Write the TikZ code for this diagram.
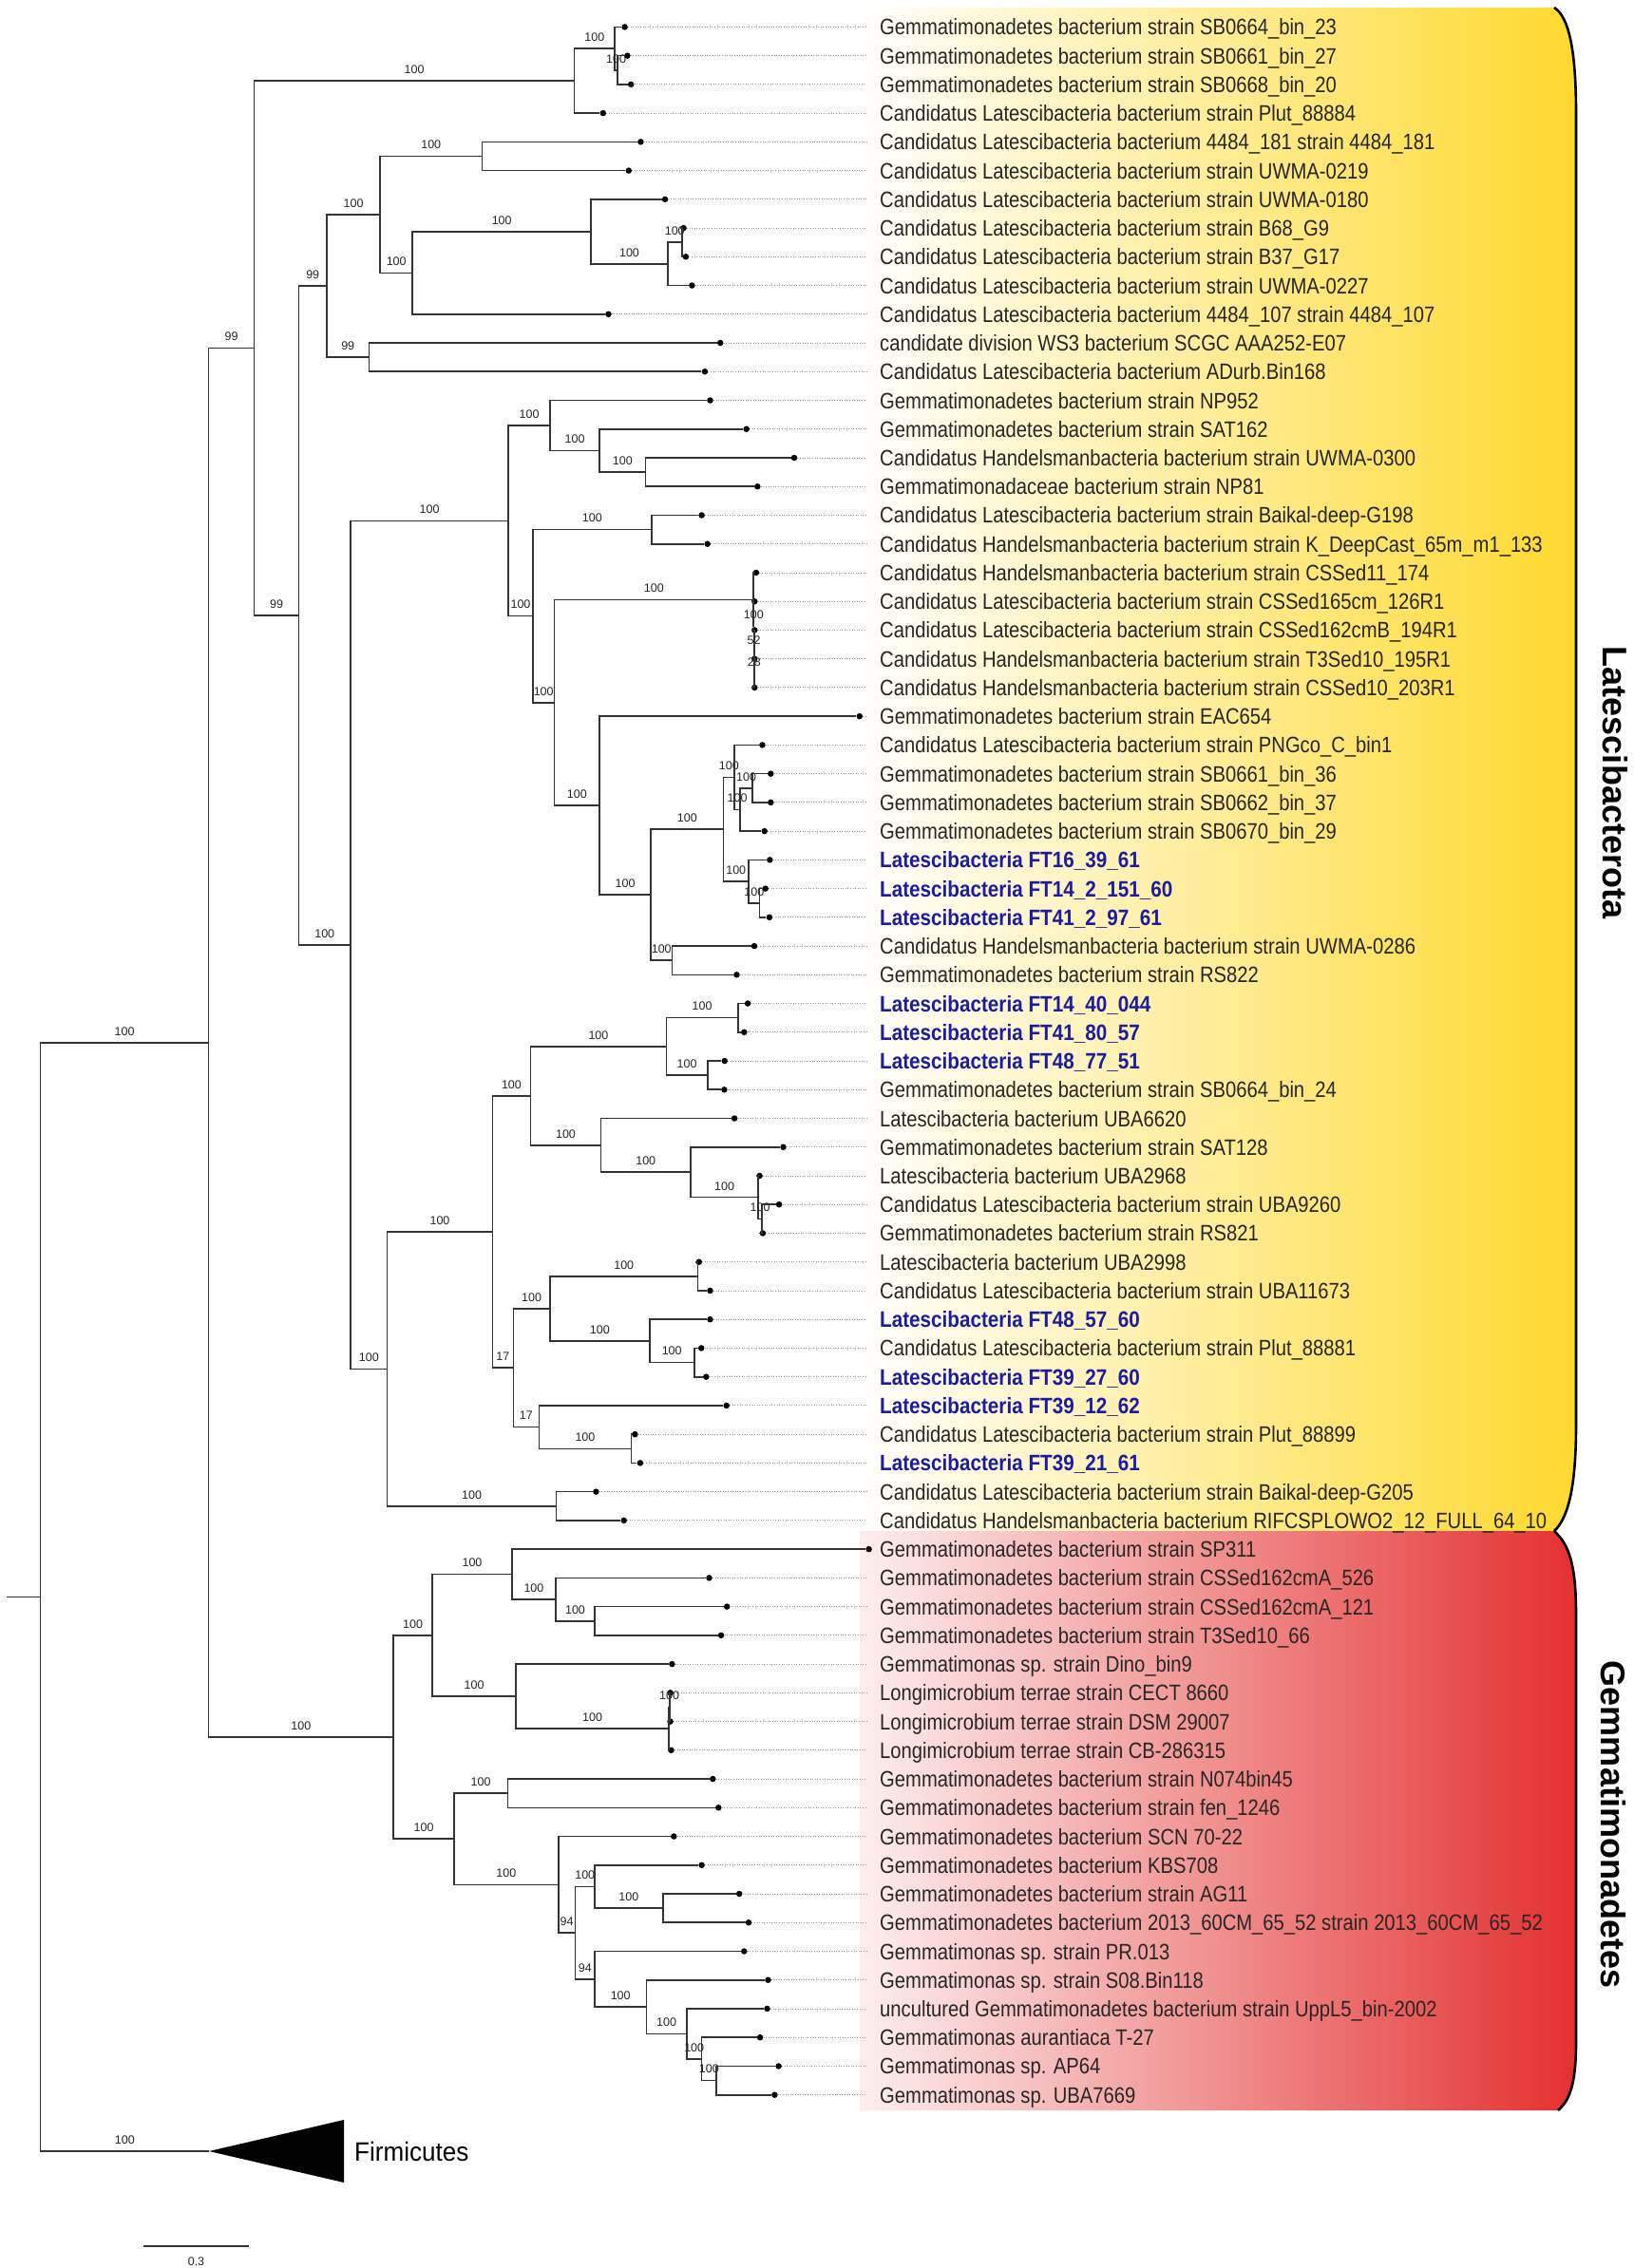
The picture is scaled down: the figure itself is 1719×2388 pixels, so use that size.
\documentclass[tikz,border=0pt]{standalone}
\usepackage{fontspec}
\setmainfont{Liberation Sans}
\newfontfamily\lf[FakeStretch=0.86]{Liberation Sans}
\newfontfamily\lfbf[FakeStretch=0.88]{Liberation Sans}
\newfontfamily\ffam[FakeStretch=0.93]{Liberation Sans}
\usetikzlibrary{calc}
\definecolor{ftblue}{RGB}{28,28,160}
\definecolor{ylw}{RGB}{255,217,45}
\definecolor{rd}{RGB}{228,48,48}
\definecolor{pk}{RGB}{253,238,238}
\newcommand\lfs{\lf\fontsize{23.5}{26}\selectfont}
\newcommand\ftl[1]{{\lfbf\fontsize{23.5}{26}\selectfont\bfseries\color{ftblue}#1}}
\newcommand\leaf[4]{%
  \pgfmathsetmacro\ly{28.4+30.24*#3}%
  \node[leafdot] (#1) at (#2,\ly) {};%
  \node[leaflab] (#1t) at (926,{\ly+8.5}) {#4};%
}
\newcommand\leadr[1]{\coordinate (#1e) at (#1 -| ledge); \draw[leader] (#1) -- (#1e);}
\newcommand\inode[4]{\path let \p1=(#3), \p2=(#4) in coordinate (#1) at (#2pt,{0.5*((\y1)+(\y2))});}
\newcommand\br[2]{\draw[branch] (#1) |- (#2);}
\newcommand\brl[3]{\draw[branch] (#1) |- (#2); \path (#1 |- #2) coordinate (#2m); \node[boot] (#2b) at ($(#2m)!0.5!(#2)+(0,-12)$) {#3};}
\begin{document}
\begin{tikzpicture}[x=1pt,y=-1pt,
  branch/.style={line width=1.6pt, draw=black!80},
  leafdot/.style={circle, fill=black, inner sep=0pt, minimum size=6.5pt},
  leader/.style={draw=black!40, line width=0.9pt, dash pattern=on 1pt off 1.6pt},
  leaflab/.style={anchor=base west, inner sep=0pt, text=black!85, font=\lfs},
  boot/.style={inner sep=0pt, text=black!85, font=\fontsize{12.5}{14}\selectfont},
  bracket/.style={line width=2.6pt, draw=black},
  cladelab/.style={rotate=-90, inner sep=0pt, font=\bfseries\fontsize{36}{40}\selectfont}]
\useasboundingbox (0,0) rectangle (1719,2388);
% coloured bands
\shade[left color=white, right color=ylw] (905,8) -- (1636,8) .. controls (1652,18) and (1659,55) .. (1659,120) -- (1659,1500) .. controls (1659,1565) and (1651,1598) .. (1636,1612) -- (905,1612) -- cycle;
\shade[left color=pk, right color=rd] (905,1612) -- (1636,1612) .. controls (1651,1626) and (1659,1645) .. (1659,1700) -- (1659,2150) .. controls (1659,2195) and (1652,2212) .. (1640,2222) -- (905,2222) -- cycle;
\coordinate (b1) at (1636,8); \coordinate (b2) at (1636,1612); \coordinate (b3) at (1640,2222);
\draw[bracket] (b1) .. controls (1652,18) and (1659,55) .. (1659,120) -- (1659,1500) .. controls (1659,1565) and (1651,1598) .. (b2);
\draw[bracket] (b2) .. controls (1651,1626) and (1659,1645) .. (1659,1700) -- (1659,2150) .. controls (1659,2195) and (1652,2212) .. (b3);
\node[cladelab] (latn) at (1700,824) {Latescibacterota};
\node[cladelab] (gemn) at (1698,1921) {Gemmatimonadetes};
\coordinate (ledge) at (912,0);
% leaves
\leaf{l0}{657.6}{0}{Gemmatimonadetes bacterium strain SB0664\_bin\_23}
\leaf{l1}{660.4}{1}{Gemmatimonadetes bacterium strain SB0661\_bin\_27}
\leaf{l2}{664.2}{2}{Gemmatimonadetes bacterium strain SB0668\_bin\_20}
\leaf{l3}{634.8}{3}{Candidatus Latescibacteria bacterium strain Plut\_88884}
\leaf{l4}{674.4}{4}{Candidatus Latescibacteria bacterium 4484\_181 strain 4484\_181}
\leaf{l5}{661.8}{5}{Candidatus Latescibacteria bacterium strain UWMA-0219}
\leaf{l6}{700}{6}{Candidatus Latescibacteria bacterium strain UWMA-0180}
\leaf{l7}{719.6}{7}{Candidatus Latescibacteria bacterium strain B68\_G9}
\leaf{l8}{721.9}{8}{Candidatus Latescibacteria bacterium strain B37\_G17}
\leaf{l9}{728.4}{9}{Candidatus Latescibacteria bacterium strain UWMA-0227}
\leaf{l10}{640.4}{10}{Candidatus Latescibacteria bacterium 4484\_107 strain 4484\_107}
\leaf{l11}{758.2}{11}{candidate division WS3 bacterium SCGC AAA252-E07}
\leaf{l12}{741.9}{12}{Candidatus Latescibacteria bacterium ADurb.Bin168}
\leaf{l13}{747.5}{13}{Gemmatimonadetes bacterium strain NP952}
\leaf{l14}{785.7}{14}{Gemmatimonadetes bacterium strain SAT162}
\leaf{l15}{836}{15}{Candidatus Handelsmanbacteria bacterium strain UWMA-0300}
\leaf{l16}{797.3}{16}{Gemmatimonadaceae bacterium strain NP81}
\leaf{l17}{738.6}{17}{Candidatus Latescibacteria bacterium strain Baikal-deep-G198}
\leaf{l18}{744.7}{18}{Candidatus Handelsmanbacteria bacterium strain K\_DeepCast\_65m\_m1\_133}
\leaf{l19}{795.9}{19}{Candidatus Handelsmanbacteria bacterium strain CSSed11\_174}
\leaf{l20}{794.3}{20}{Candidatus Latescibacteria bacterium strain CSSed165cm\_126R1}
\leaf{l21}{794.3}{21}{Candidatus Latescibacteria bacterium strain CSSed162cmB\_194R1}
\leaf{l22}{794.3}{22}{Candidatus Handelsmanbacteria bacterium strain T3Sed10\_195R1}
\leaf{l23}{794.3}{23}{Candidatus Handelsmanbacteria bacterium strain CSSed10\_203R1}
\leaf{l24}{904.8}{24}{Gemmatimonadetes bacterium strain EAC654}
\leaf{l25}{802.4}{25}{Candidatus Latescibacteria bacterium strain PNGco\_C\_bin1}
\leaf{l26}{811.3}{26}{Gemmatimonadetes bacterium strain SB0661\_bin\_36}
\leaf{l27}{811.3}{27}{Gemmatimonadetes bacterium strain SB0662\_bin\_37}
\leaf{l28}{804.7}{28}{Gemmatimonadetes bacterium strain SB0670\_bin\_29}
\leaf{l29}{810.3}{29}{\ftl{Latescibacteria FT16\_39\_61}}
\leaf{l30}{805.7}{30}{\ftl{Latescibacteria FT14\_2\_151\_60}}
\leaf{l31}{809.9}{31}{\ftl{Latescibacteria FT41\_2\_97\_61}}
\leaf{l32}{794}{32}{Candidatus Handelsmanbacteria bacterium strain UWMA-0286}
\leaf{l33}{775.4}{33}{Gemmatimonadetes bacterium strain RS822}
\leaf{l34}{787.1}{34}{\ftl{Latescibacteria FT14\_40\_044}}
\leaf{l35}{783.3}{35}{\ftl{Latescibacteria FT41\_80\_57}}
\leaf{l36}{762.8}{36}{\ftl{Latescibacteria FT48\_77\_51}}
\leaf{l37}{762.4}{37}{Gemmatimonadetes bacterium strain SB0664\_bin\_24}
\leaf{l38}{773.1}{38}{Latescibacteria bacterium UBA6620}
\leaf{l39}{824.5}{39}{Gemmatimonadetes bacterium strain SAT128}
\leaf{l40}{799.6}{40}{Latescibacteria bacterium UBA2968}
\leaf{l41}{820.1}{41}{Candidatus Latescibacteria bacterium strain UBA9260}
\leaf{l42}{802.9}{42}{Gemmatimonadetes bacterium strain RS821}
\leaf{l43}{735.8}{43}{Latescibacteria bacterium UBA2998}
\leaf{l44}{747.5}{44}{Candidatus Latescibacteria bacterium strain UBA11673}
\leaf{l45}{747.5}{45}{\ftl{Latescibacteria FT48\_57\_60}}
\leaf{l46}{738.2}{46}{Candidatus Latescibacteria bacterium strain Plut\_88881}
\leaf{l47}{743.3}{47}{\ftl{Latescibacteria FT39\_27\_60}}
\leaf{l48}{764.7}{48}{\ftl{Latescibacteria FT39\_12\_62}}
\leaf{l49}{668.4}{49}{Candidatus Latescibacteria bacterium strain Plut\_88899}
\leaf{l50}{673.9}{50}{\ftl{Latescibacteria FT39\_21\_61}}
\leaf{l51}{627.4}{51}{Candidatus Latescibacteria bacterium strain Baikal-deep-G205}
\leaf{l52}{656.7}{52}{Candidatus Handelsmanbacteria bacterium RIFCSPLOWO2\_12\_FULL\_64\_10}
\leaf{l53}{914.6}{53}{Gemmatimonadetes bacterium strain SP311}
\leaf{l54}{746.5}{54}{Gemmatimonadetes bacterium strain CSSed162cmA\_526}
\leaf{l55}{765.2}{55}{Gemmatimonadetes bacterium strain CSSed162cmA\_121}
\leaf{l56}{759.1}{56}{Gemmatimonadetes bacterium strain T3Sed10\_66}
\leaf{l57}{707.4}{57}{Gemmatimonas sp. strain Dino\_bin9}
\leaf{l58}{705.6}{58}{Longimicrobium terrae strain CECT 8660}
\leaf{l59}{705.6}{59}{Longimicrobium terrae strain DSM 29007}
\leaf{l60}{706.5}{60}{Longimicrobium terrae strain CB-286315}
\leaf{l61}{750.3}{61}{Gemmatimonadetes bacterium strain N074bin45}
\leaf{l62}{756.3}{62}{Gemmatimonadetes bacterium strain fen\_1246}
\leaf{l63}{709.3}{63}{Gemmatimonadetes bacterium SCN 70-22}
\leaf{l64}{738.6}{64}{Gemmatimonadetes bacterium KBS708}
\leaf{l65}{778.2}{65}{Gemmatimonadetes bacterium strain AG11}
\leaf{l66}{788}{66}{Gemmatimonadetes bacterium 2013\_60CM\_65\_52 strain 2013\_60CM\_65\_52}
\leaf{l67}{783.3}{67}{Gemmatimonas sp. strain PR.013}
\leaf{l68}{808.5}{68}{Gemmatimonas sp. strain S08.Bin118}
\leaf{l69}{807.5}{69}{uncultured Gemmatimonadetes bacterium strain UppL5\_bin-2002}
\leaf{l70}{800.1}{70}{Gemmatimonas aurantiaca T-27}
\leaf{l71}{819.6}{71}{Gemmatimonas sp. AP64}
\leaf{l72}{815.4}{72}{Gemmatimonas sp. UBA7669}
% leaders
\foreach \k in {0,...,52,54,55,...,72} {\leadr{l\k}}
% internal nodes
\inode{A12}{650.2}{l1}{l2}
\inode{A1}{647}{l0}{A12}
\inode{A}{604.6}{A1}{l3}
\inode{N45}{507.3}{l4}{l5}
\inode{N78}{717.7}{l7}{l8}
\inode{R8}{702.8}{N78}{l9}
\inode{R7}{622.2}{l6}{R8}
\inode{R6}{434.2}{R7}{l10}
\inode{R5}{400.2}{N45}{R6}
\inode{N1112}{388.5}{l11}{l12}
\inode{R4}{343.9}{R5}{N1112}
\inode{R14}{679.5}{l15}{l16}
\inode{R13}{631.1}{l14}{R14}
\inode{R12}{579}{l13}{R13}
\inode{R16}{686}{l17}{l18}
\inode{N22}{793.9}{l22}{l23}
\inode{N21}{793.7}{l21}{N22}
\inode{N20}{793.5}{l20}{N21}
\inode{R18}{793.2}{l19}{N20}
\inode{N2627}{792.2}{l26}{l27}
\inode{R24}{779.1}{N2627}{l28}
\inode{R23}{773.1}{l25}{R24}
\inode{N3031}{799.6}{l30}{l31}
\inode{R25}{788}{l29}{N3031}
\inode{R22}{761.5}{R23}{R25}
\inode{N3233}{707.4}{l32}{l33}
\inode{R21}{685.1}{R22}{N3233}
\inode{R19}{631.1}{l24}{R21}
\inode{R17}{583.6}{R18}{R19}
\inode{R15}{560.8}{R16}{R17}
\inode{R11}{535.2}{R12}{R15}
\inode{N3435}{776.8}{l34}{l35}
\inode{N3637}{744.7}{l36}{l37}
\inode{R28}{701.4}{N3435}{N3637}
\inode{N4142}{802}{l41}{l42}
\inode{R31}{798.2}{l40}{N4142}
\inode{R30}{727}{l39}{R31}
\inode{R29}{632.5}{l38}{R30}
\inode{R27}{558.5}{R28}{R29}
\inode{N4344}{734.5}{l43}{l44}
\inode{N4647}{730.7}{l46}{l47}
\inode{R34}{683.7}{l45}{N4647}
\inode{R33}{579}{N4344}{R34}
\inode{N4950}{664.6}{l49}{l50}
\inode{R35}{567.3}{l48}{N4950}
\inode{R32}{540.3}{R33}{R35}
\inode{R26}{518.4}{R27}{R32}
\inode{N5152}{585.5}{l51}{l52}
\inode{R20}{407.6}{R26}{N5152}
\inode{R10}{369}{R11}{R20}
\inode{R3}{314.5}{R4}{R10}
\inode{R2}{267.5}{A}{R3}
\inode{N5556}{626}{l55}{l56}
\inode{G3}{585}{l54}{N5556}
\inode{G2}{538.9}{l53}{G3}
\inode{N5859}{705}{l58}{l59}
\inode{G5}{704.2}{N5859}{l60}
\inode{G4}{543.1}{l57}{G5}
\inode{G1}{455.1}{G2}{G4}
\inode{N6162}{534.3}{l61}{l62}
\inode{N6566}{697.7}{l65}{l66}
\inode{G9}{626}{l64}{N6566}
\inode{N7172}{754}{l71}{l72}
\inode{G13}{738.6}{l70}{N7172}
\inode{G12}{722.8}{l69}{G13}
\inode{G11}{680.4}{l68}{G12}
\inode{G10}{626}{l67}{G11}
\inode{G8}{605.5}{G9}{G10}
\inode{G7}{587.8}{l63}{G8}
\inode{G6}{477.9}{N6162}{G7}
\inode{G}{414.2}{G1}{G6}
\inode{R1}{219.6}{R2}{G}
\coordinate (F) at (220,2265);
\inode{ROOT}{42.6}{R1}{F}
\coordinate (stubx) at (7,0);
\coordinate (stub) at (ROOT -| stubx);
% branches
\draw[branch] (stub) -- (ROOT);
\brl{ROOT}{R1}{100} \brl{ROOT}{F}{100}
\brl{R1}{R2}{99} \brl{R1}{G}{100}
\brl{R2}{A}{100} \brl{R2}{R3}{99}
\brl{A}{A1}{100} \br{A}{l3} \br{A1}{l0} \brl{A1}{A12}{100} \br{A12}{l1} \br{A12}{l2}
\brl{R3}{R4}{99} \brl{R3}{R10}{100}
\brl{R4}{R5}{100} \brl{R4}{N1112}{99} \br{N1112}{l11} \br{N1112}{l12}
\brl{R5}{N45}{100} \br{N45}{l4} \br{N45}{l5} \brl{R5}{R6}{100}
\brl{R6}{R7}{100} \br{R6}{l10} \br{R7}{l6} \brl{R7}{R8}{100}
\brl{R8}{N78}{100} \br{N78}{l7} \br{N78}{l8} \br{R8}{l9}
\brl{R10}{R11}{100} \brl{R10}{R20}{100}
\brl{R11}{R12}{100} \brl{R11}{R15}{100}
\br{R12}{l13} \brl{R12}{R13}{100} \br{R13}{l14} \brl{R13}{R14}{100} \br{R14}{l15} \br{R14}{l16}
\brl{R15}{R16}{100} \br{R16}{l17} \br{R16}{l18} \brl{R15}{R17}{100}
\brl{R17}{R18}{100} \br{R18}{l19} \brl{R18}{N20}{100} \br{N20}{l20} \brl{N20}{N21}{52} \br{N21}{l21} \brl{N21}{N22}{28} \br{N22}{l22} \br{N22}{l23}
\brl{R17}{R19}{100} \br{R19}{l24} \brl{R19}{R21}{100}
\brl{R21}{R22}{100} \brl{R21}{N3233}{100} \br{N3233}{l32} \br{N3233}{l33}
\brl{R22}{R23}{100} \brl{R22}{R25}{100}
\br{R23}{l25} \brl{R23}{R24}{100} \brl{R24}{N2627}{100} \br{N2627}{l26} \br{N2627}{l27} \br{R24}{l28}
\br{R25}{l29} \brl{R25}{N3031}{100} \br{N3031}{l30} \br{N3031}{l31}
\brl{R20}{R26}{100} \brl{R20}{N5152}{100} \br{N5152}{l51} \br{N5152}{l52}
\brl{R26}{R27}{100} \brl{R26}{R32}{17}
\brl{R27}{R28}{100} \brl{R27}{R29}{100}
\brl{R28}{N3435}{100} \br{N3435}{l34} \br{N3435}{l35} \brl{R28}{N3637}{100} \br{N3637}{l36} \br{N3637}{l37}
\br{R29}{l38} \brl{R29}{R30}{100} \br{R30}{l39} \brl{R30}{R31}{100} \br{R31}{l40} \brl{R31}{N4142}{100} \br{N4142}{l41} \br{N4142}{l42}
\brl{R32}{R33}{100} \brl{R32}{R35}{17}
\brl{R33}{N4344}{100} \br{N4344}{l43} \br{N4344}{l44} \brl{R33}{R34}{100} \br{R34}{l45} \brl{R34}{N4647}{100} \br{N4647}{l46} \br{N4647}{l47}
\br{R35}{l48} \brl{R35}{N4950}{100} \br{N4950}{l49} \br{N4950}{l50}
\brl{G}{G1}{100} \brl{G}{G6}{100}
\brl{G1}{G2}{100} \brl{G1}{G4}{100}
\br{G2}{l53} \brl{G2}{G3}{100} \br{G3}{l54} \brl{G3}{N5556}{100} \br{N5556}{l55} \br{N5556}{l56}
\br{G4}{l57} \brl{G4}{G5}{100} \brl{G5}{N5859}{100} \br{N5859}{l58} \br{N5859}{l59} \br{G5}{l60}
\brl{G6}{N6162}{100} \br{N6162}{l61} \br{N6162}{l62} \brl{G6}{G7}{100}
\br{G7}{l63} \brl{G7}{G8}{94}
\brl{G8}{G9}{100} \br{G9}{l64} \brl{G9}{N6566}{100} \br{N6566}{l65} \br{N6566}{l66}
\brl{G8}{G10}{94} \br{G10}{l67} \brl{G10}{G11}{100} \br{G11}{l68} \brl{G11}{G12}{100} \br{G12}{l69} \brl{G12}{G13}{100} \br{G13}{l70} \brl{G13}{N7172}{100} \br{N7172}{l71} \br{N7172}{l72}
% Firmicutes
\coordinate (Fa) at (362,2232); \coordinate (Fb) at (362,2298);
\fill[black] (F) -- (Fa) -- (Fb) -- cycle;
\node[anchor=west, inner sep=0pt, font=\ffam\fontsize{28}{30}\selectfont] (ftext) at (373,2265) {Firmicutes};
% scale bar
\coordinate (sb1) at (151,2365); \coordinate (sb2) at (262,2365);
\draw[branch] (sb1) -- (sb2);
\node[boot] (sbl) at (206.5,2381) {0.3};
\end{tikzpicture}
\end{document}
